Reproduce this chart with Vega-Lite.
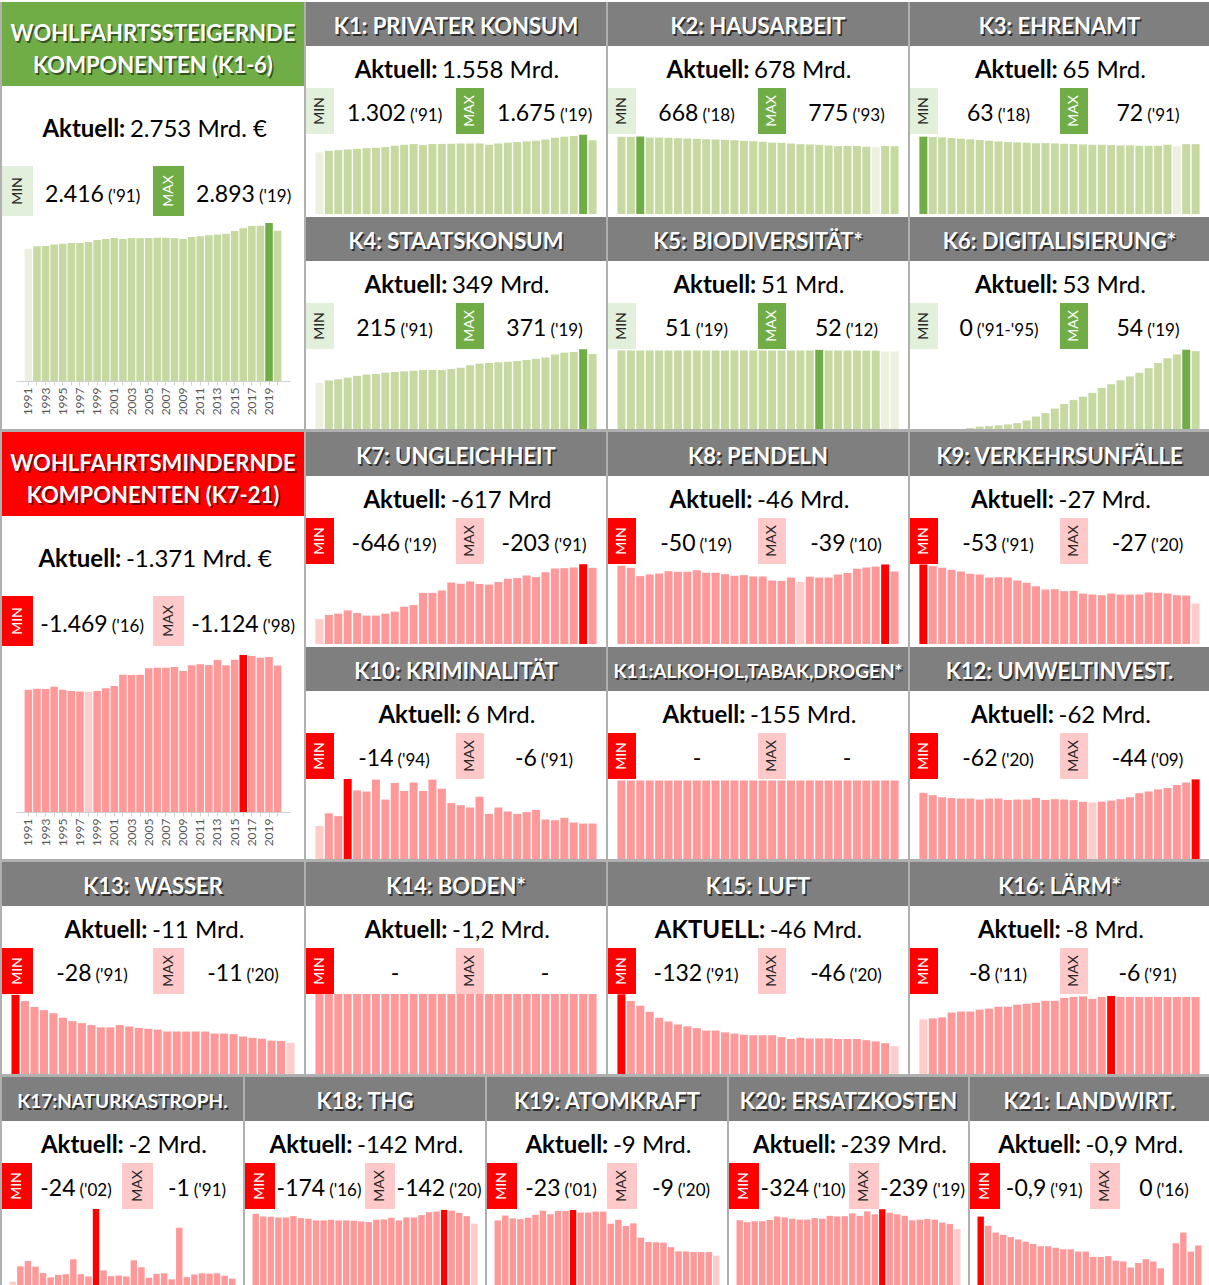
{
"$schema":"https://vega.github.io/schema/vega-lite/v6.json",
"padding":{"left":0,"top":2,"right":0,"bottom":0},
"background":"white",
"spacing":0,
"config":{"view":{"stroke":null},"font":"Lato","text":{"font":"Lato"},"concat":{"spacing":0},"axis":{"labelFont":"Lato"}},
"datasets":{
"info":[
{"k":"WS","titel":"WOHLFAHRTSSTEIGERNDE\nKOMPONENTEN (K1-6)","label":"Aktuell:","aktuell":"2.753 Mrd. €","min":"2.416","minj":"('91)","max":"2.893","maxj":"('19)"},
{"k":"WM","titel":"WOHLFAHRTSMINDERNDE\nKOMPONENTEN (K7-21)","label":"Aktuell:","aktuell":"-1.371 Mrd. €","min":"-1.469","minj":"('16)","max":"-1.124","maxj":"('98)"},
{"k":"K1","titel":"K1: PRIVATER KONSUM","label":"Aktuell:","aktuell":"1.558 Mrd.","min":"1.302","minj":"('91)","max":"1.675","maxj":"('19)"},
{"k":"K2","titel":"K2: HAUSARBEIT","label":"Aktuell:","aktuell":"678 Mrd.","min":"668","minj":"('18)","max":"775","maxj":"('93)"},
{"k":"K3","titel":"K3: EHRENAMT","label":"Aktuell:","aktuell":"65 Mrd.","min":"63","minj":"('18)","max":"72","maxj":"('91)"},
{"k":"K4","titel":"K4: STAATSKONSUM","label":"Aktuell:","aktuell":"349 Mrd.","min":"215","minj":"('91)","max":"371","maxj":"('19)"},
{"k":"K5","titel":"K5: BIODIVERSITÄT*","label":"Aktuell:","aktuell":"51 Mrd.","min":"51","minj":"('19)","max":"52","maxj":"('12)"},
{"k":"K6","titel":"K6: DIGITALISIERUNG*","label":"Aktuell:","aktuell":"53 Mrd.","min":"0","minj":"('91-'95)","max":"54","maxj":"('19)"},
{"k":"K7","titel":"K7: UNGLEICHHEIT","label":"Aktuell:","aktuell":"-617 Mrd","min":"-646","minj":"('19)","max":"-203","maxj":"('91)"},
{"k":"K8","titel":"K8: PENDELN","label":"Aktuell:","aktuell":"-46 Mrd.","min":"-50","minj":"('19)","max":"-39","maxj":"('10)"},
{"k":"K9","titel":"K9: VERKEHRSUNFÄLLE","label":"Aktuell:","aktuell":"-27 Mrd.","min":"-53","minj":"('91)","max":"-27","maxj":"('20)"},
{"k":"K10","titel":"K10: KRIMINALITÄT","label":"Aktuell:","aktuell":"6 Mrd.","min":"-14","minj":"('94)","max":"-6","maxj":"('91)"},
{"k":"K11","titel":"K11:ALKOHOL,TABAK,DROGEN*","label":"Aktuell:","aktuell":"-155 Mrd.","min":"-","minj":"","max":"-","maxj":""},
{"k":"K12","titel":"K12: UMWELTINVEST.","label":"Aktuell:","aktuell":"-62 Mrd.","min":"-62","minj":"('20)","max":"-44","maxj":"('09)"},
{"k":"K13","titel":"K13: WASSER","label":"Aktuell:","aktuell":"-11 Mrd.","min":"-28","minj":"('91)","max":"-11","maxj":"('20)"},
{"k":"K14","titel":"K14: BODEN*","label":"Aktuell:","aktuell":"-1,2 Mrd.","min":"-","minj":"","max":"-","maxj":""},
{"k":"K15","titel":"K15: LUFT","label":"AKTUELL:","aktuell":"-46 Mrd.","min":"-132","minj":"('91)","max":"-46","maxj":"('20)"},
{"k":"K16","titel":"K16: LÄRM*","label":"Aktuell:","aktuell":"-8 Mrd.","min":"-8","minj":"('11)","max":"-6","maxj":"('91)"},
{"k":"K17","titel":"K17:NATURKASTROPH.","label":"Aktuell:","aktuell":"-2 Mrd.","min":"-24","minj":"('02)","max":"-1","maxj":"('91)"},
{"k":"K18","titel":"K18: THG","label":"Aktuell:","aktuell":"-142 Mrd.","min":"-174","minj":"('16)","max":"-142","maxj":"('20)"},
{"k":"K19","titel":"K19: ATOMKRAFT","label":"Aktuell:","aktuell":"-9 Mrd.","min":"-23","minj":"('01)","max":"-9","maxj":"('20)"},
{"k":"K20","titel":"K20: ERSATZKOSTEN","label":"Aktuell:","aktuell":"-239 Mrd.","min":"-324","minj":"('10)","max":"-239","maxj":"('19)"},
{"k":"K21","titel":"K21: LANDWIRT.","label":"Aktuell:","aktuell":"-0,9 Mrd.","min":"-0,9","minj":"('91)","max":"0","maxj":"('16)"}
],
"werte":[
{"jahr":1991,"WS":2416,"K1":1302,"K2":772,"K3":72,"K4":215,"K5":51.6,"K6":0,"WM":-1144,"K7":-203,"K8":-49.2,"K9":-53,"K10":-5.8,"K11":-155,"K12":-51.5,"K13":-28,"K14":-1.2,"K15":-132,"K16":-5.6,"K17":-1,"K18":-164.8,"K19":-19.8,"K20":-276.8,"K21":-0.9},
{"jahr":1992,"WS":2466,"K1":1335,"K2":772,"K3":71.7,"K4":226,"K5":51.6,"K6":0,"WM":-1153,"K7":-235,"K8":-47.9,"K9":-51.9,"K10":-8,"K11":-155,"K12":-49.7,"K13":-25.8,"K14":-1.2,"K15":-121,"K16":-5.7,"K17":-5.9,"K18":-158.7,"K19":-21.3,"K20":-268.7,"K21":-0.78},
{"jahr":1993,"WS":2473,"K1":1349,"K2":775,"K3":71.4,"K4":231,"K5":51.6,"K6":0,"WM":-1150,"K7":-246,"K8":-42.7,"K9":-50.8,"K10":-7.5,"K11":-155,"K12":-48.1,"K13":-23.7,"K14":-1.2,"K15":-113,"K16":-5.8,"K17":-7.6,"K18":-158,"K19":-20.4,"K20":-272.7,"K21":-0.69},
{"jahr":1994,"WS":2497,"K1":1363,"K2":765,"K3":70.7,"K4":239,"K5":51.6,"K6":0,"WM":-1172,"K7":-272,"K8":-43.7,"K9":-49.4,"K10":-14,"K11":-155,"K12":-47.4,"K13":-22.6,"K14":-1.2,"K15":-103,"K16":-6.3,"K17":-5.8,"K18":-156.4,"K19":-20.2,"K20":-272.7,"K21":-0.66},
{"jahr":1995,"WS":2515,"K1":1377,"K2":765,"K3":70.1,"K4":247,"K5":51.6,"K6":0,"WM":-1144,"K7":-251,"K8":-44.3,"K9":-48.3,"K10":-12,"K11":-155,"K12":-47.1,"K13":-21.5,"K14":-1.2,"K15":-93,"K16":-6.4,"K17":-3.8,"K18":-156.4,"K19":-20.6,"K20":-278.1,"K21":-0.63},
{"jahr":1996,"WS":2527,"K1":1392,"K2":762,"K3":69.5,"K4":253,"K5":51.6,"K6":0.7,"WM":-1132,"K7":-230,"K8":-45.8,"K9":-46.8,"K10":-11.8,"K11":-155,"K12":-47.1,"K13":-19.9,"K14":-1.2,"K15":-87,"K16":-6.4,"K17":-2.4,"K18":-159.5,"K19":-21.5,"K20":-293,"K21":-0.6},
{"jahr":1997,"WS":2527,"K1":1399,"K2":758,"K3":68.9,"K4":256,"K5":51.6,"K6":1.6,"WM":-1127,"K7":-230,"K8":-45.4,"K9":-46.3,"K10":-13.9,"K11":-155,"K12":-46.3,"K13":-18.7,"K14":-1.2,"K15":-82,"K16":-6.6,"K17":-3.2,"K18":-154.9,"K19":-22.8,"K20":-288.9,"K21":-0.57},
{"jahr":1998,"WS":2546,"K1":1413,"K2":755,"K3":68.2,"K4":262,"K5":51.6,"K6":2,"WM":-1124,"K7":-246,"K8":-45.4,"K9":-44.3,"K10":-10.4,"K11":-155,"K12":-47.1,"K13":-18,"K14":-1.2,"K15":-79,"K16":-6.7,"K17":-3.4,"K18":-153.4,"K19":-21.7,"K20":-283.5,"K21":-0.54},
{"jahr":1999,"WS":2582,"K1":1441,"K2":752,"K3":67.6,"K4":265,"K5":51.6,"K6":2.5,"WM":-1132,"K7":-262,"K8":-46.4,"K9":-44.5,"K10":-13.3,"K11":-155,"K12":-47.1,"K13":-17.3,"K14":-1.2,"K15":-76,"K16":-6.9,"K17":-8.1,"K18":-149.5,"K19":-22.7,"K20":-279.5,"K21":-0.51},
{"jahr":2000,"WS":2600,"K1":1463,"K2":748,"K3":67,"K4":268,"K5":51.6,"K6":3.1,"WM":-1157,"K7":-302,"K8":-44.8,"K9":-44.3,"K10":-11.9,"K11":-155,"K12":-46,"K13":-16.5,"K14":-1.2,"K15":-72,"K16":-6.9,"K17":-3.4,"K18":-149.5,"K19":-22.7,"K20":-279.5,"K21":-0.51},
{"jahr":2001,"WS":2619,"K1":1477,"K2":745,"K3":66.7,"K4":271,"K5":51.6,"K6":4,"WM":-1178,"K7":-315,"K8":-44.8,"K9":-42.3,"K10":-13.4,"K11":-155,"K12":-46.3,"K13":-16.5,"K14":-1.2,"K15":-72,"K16":-7.1,"K17":-2.7,"K18":-151.1,"K19":-23,"K20":-286.2,"K21":-0.49},
{"jahr":2002,"WS":2600,"K1":1456,"K2":742,"K3":66.4,"K4":274,"K5":51.6,"K6":5.8,"WM":-1285,"K7":-414,"K8":-43.9,"K9":-40.8,"K10":-11.9,"K11":-155,"K12":-46.3,"K13":-17.3,"K14":-1.2,"K15":-69,"K16":-7.2,"K17":-24,"K18":-149.5,"K19":-22.2,"K20":-283.5,"K21":-0.47},
{"jahr":2003,"WS":2619,"K1":1477,"K2":738,"K3":66,"K4":274,"K5":51.6,"K6":8.5,"WM":-1282,"K7":-414,"K8":-42.9,"K9":-38.5,"K10":-13.9,"K11":-155,"K12":-47.6,"K13":-16.8,"K14":-1.2,"K15":-67,"K16":-7.3,"K17":-4.6,"K18":-149.5,"K19":-22.2,"K20":-295.7,"K21":-0.47},
{"jahr":2004,"WS":2613,"K1":1480,"K2":732,"K3":66,"K4":274,"K5":51.6,"K6":10.8,"WM":-1285,"K7":-433,"K8":-43.3,"K9":-36.3,"K10":-12.3,"K11":-155,"K12":-46,"K13":-16.3,"K14":-1.2,"K15":-65,"K16":-7.5,"K17":-2.8,"K18":-148.8,"K19":-22.5,"K20":-293,"K21":-0.44},
{"jahr":2005,"WS":2619,"K1":1483,"K2":728,"K3":65.7,"K4":279,"K5":51.6,"K6":13.9,"WM":-1344,"K7":-499,"K8":-42.5,"K9":-36.5,"K10":-9.8,"K11":-155,"K12":-46.6,"K13":-16,"K14":-1.2,"K15":-64,"K16":-7.5,"K17":-3,"K18":-147.3,"K19":-22.5,"K20":-294.3,"K21":-0.44},
{"jahr":2006,"WS":2625,"K1":1487,"K2":722,"K3":65.4,"K4":285,"K5":51.6,"K6":17,"WM":-1350,"K7":-489,"K8":-42.5,"K9":-35.2,"K10":-9.4,"K11":-155,"K12":-46.3,"K13":-15.7,"K14":-1.2,"K15":-64,"K16":-7.8,"K17":-2.7,"K18":-145.7,"K19":-18.8,"K20":-306.5,"K21":-0.37},
{"jahr":2007,"WS":2625,"K1":1490,"K2":715,"K3":65.1,"K4":296,"K5":51.6,"K6":19.7,"WM":-1350,"K7":-507,"K8":-40,"K9":-35.4,"K10":-9,"K11":-155,"K12":-45.8,"K13":-15,"K14":-1.2,"K15":-64,"K16":-7.9,"K17":-7.8,"K18":-151.1,"K19":-20,"K20":-295.7,"K21":-0.37},
{"jahr":2008,"WS":2619,"K1":1490,"K2":712,"K3":64.8,"K4":304,"K5":51.6,"K6":22,"WM":-1357,"K7":-486,"K8":-39.7,"K9":-33.6,"K10":-10.9,"K11":-155,"K12":-44.5,"K13":-15,"K14":-1.2,"K15":-61,"K16":-7.96,"K17":-5.6,"K18":-151.8,"K19":-18.1,"K20":-314.6,"K21":-0.38},
{"jahr":2009,"WS":2600,"K1":1463,"K2":705,"K3":64.5,"K4":307,"K5":51.6,"K6":24.6,"WM":-1319,"K7":-481,"K8":-41.8,"K9":-33,"K10":-7.9,"K11":-155,"K12":-44,"K13":-15,"K14":-1.2,"K15":-58,"K16":-7.7,"K17":-2.3,"K18":-155.7,"K19":-18.9,"K20":-302.4,"K21":-0.32},
{"jahr":2010,"WS":2637,"K1":1491,"K2":698,"K3":64.5,"K4":310,"K5":51.6,"K6":28,"WM":-1372,"K7":-502,"K8":-39,"K9":-32.5,"K10":-9,"K11":-155,"K12":-44.7,"K13":-15,"K14":-1.2,"K15":-60,"K16":-7.9,"K17":-3.5,"K18":-149.5,"K19":-14.5,"K20":-324,"K21":-0.31},
{"jahr":2011,"WS":2649,"K1":1505,"K2":695,"K3":64.2,"K4":313,"K5":51.6,"K6":30.5,"WM":-1382,"K7":-529,"K8":-42.3,"K9":-33.6,"K10":-8.3,"K11":-155,"K12":-45.5,"K13":-15,"K14":-1.2,"K15":-59,"K16":-8,"K17":-3.7,"K18":-156.4,"K19":-13.2,"K20":-309.2,"K21":-0.23},
{"jahr":2012,"WS":2667,"K1":1519,"K2":692,"K3":63.9,"K4":316,"K5":52,"K6":33.2,"WM":-1375,"K7":-534,"K8":-41.8,"K9":-33,"K10":-7.9,"K11":-155,"K12":-46.6,"K13":-14.3,"K14":-1.2,"K15":-59,"K16":-7.9,"K17":-1.8,"K18":-156.4,"K19":-13.1,"K20":-302.4,"K21":-0.29},
{"jahr":2013,"WS":2680,"K1":1534,"K2":685,"K3":63.9,"K4":321,"K5":51.6,"K6":35.8,"WM":-1422,"K7":-555,"K8":-41.8,"K9":-33,"K10":-8.2,"K11":-155,"K12":-48.1,"K13":-14.3,"K14":-1.2,"K15":-59,"K16":-7.9,"K17":-18.1,"K18":-161.8,"K19":-13,"K20":-295.7,"K21":-0.34},
{"jahr":2014,"WS":2698,"K1":1548,"K2":678,"K3":63.5,"K4":326,"K5":51.6,"K6":38.3,"WM":-1372,"K7":-542,"K8":-43.7,"K9":-33,"K10":-8.6,"K11":-155,"K12":-51.3,"K13":-14.1,"K14":-1.2,"K15":-58,"K16":-7.9,"K17":-2.5,"K18":-168.6,"K19":-11.6,"K20":-276.8,"K21":-0.31},
{"jahr":2015,"WS":2747,"K1":1576,"K2":680,"K3":63.5,"K4":333,"K5":51.6,"K6":41.4,"WM":-1425,"K7":-582,"K8":-44.6,"K9":-34.3,"K10":-6.9,"K11":-155,"K12":-52.6,"K13":-13.3,"K14":-1.2,"K15":-58,"K16":-7.9,"K17":-3.3,"K18":-170.1,"K19":-10.3,"K20":-279.5,"K21":-0.22},
{"jahr":2016,"WS":2795,"K1":1612,"K2":680,"K3":63.5,"K4":347,"K5":51.6,"K6":45,"WM":-1469,"K7":-612,"K8":-47.3,"K9":-34.1,"K10":-6.8,"K11":-155,"K12":-54.2,"K13":-12.8,"K14":-1.2,"K15":-58,"K16":-7.9,"K17":-3.7,"K18":-174,"K19":-10.3,"K20":-282.2,"K21":0},
{"jahr":2017,"WS":2838,"K1":1633,"K2":673,"K3":64.5,"K4":355,"K5":51.5,"K6":48.2,"WM":-1460,"K7":-614,"K8":-48.1,"K9":-33.6,"K10":-7.2,"K11":-155,"K12":-55.2,"K13":-12.5,"K14":-1.2,"K15":-56,"K16":-7.9,"K17":-3.6,"K18":-172.4,"K19":-10.1,"K20":-279.5,"K21":-0.55},
{"jahr":2018,"WS":2844,"K1":1647,"K2":668,"K3":63,"K4":358,"K5":51.5,"K6":50.8,"WM":-1444,"K7":-620,"K8":-48.7,"K9":-32.5,"K10":-6.4,"K11":-155,"K12":-57.6,"K13":-11.8,"K14":-1.2,"K15":-54,"K16":-7.9,"K17":-3.7,"K18":-167.1,"K19":-10.1,"K20":-267.3,"K21":-0.69},
{"jahr":2019,"WS":2893,"K1":1675,"K2":680,"K3":65,"K4":371,"K5":51,"K6":54,"WM":-1450,"K7":-646,"K8":-50,"K9":-32.3,"K10":-6.2,"K11":-155,"K12":-59.6,"K13":-11.7,"K14":-1.2,"K15":-51,"K16":-7.9,"K17":-2.9,"K18":-159.5,"K19":-10.1,"K20":-260.6,"K21":-0.44},
{"jahr":2020,"WS":2753,"K1":1558,"K2":678,"K3":65,"K4":349,"K5":51,"K6":53,"WM":-1371,"K7":-617,"K8":-45.6,"K9":-27,"K10":-6.2,"K11":-155,"K12":-62,"K13":-11,"K14":-1.2,"K15":-46,"K16":-7.9,"K17":-2,"K18":-142,"K19":-9,"K20":-239,"K21":-0.52}
]},
"vconcat":[
{"hconcat":[
{"width":2,"height":427,"view":{"fill":"#b0b0b0"},"data":{"values":[]},"mark":"text","encoding":{"text":{"value":""}}},
{"vconcat":[
 {"width":302,"height":84,"view":{"fill":"#70ad47"},"data":{"name":"info"},"transform":[{"filter":"datum.k=='WS'"}],"layer":[
  {"mark":{"type":"text","fontSize":22,"fontWeight":"bold","color":"#263d18","opacity":0.8,"lineBreak":"\n","lineHeight":32,"dx":1.5,"dy":-8},"encoding":{"text":{"field":"titel"}}},
  {"mark":{"type":"text","fontSize":22,"fontWeight":"bold","color":"white","lineBreak":"\n","lineHeight":32,"dy":-10},"encoding":{"text":{"field":"titel"}}}]},
 {"width":302,"height":80,"data":{"name":"info"},"transform":[{"filter":"datum.k=='WS'"}],"layer":[
  {"mark":{"type":"text","fontSize":24,"fontWeight":"bold","align":"right","baseline":"alphabetic","dx":-27.7,"dy":11,"color":"black"},"encoding":{"text":{"field":"label"}}},
  {"mark":{"type":"text","fontSize":24,"align":"left","baseline":"alphabetic","dx":-23.1,"dy":11,"color":"black"},"encoding":{"text":{"field":"aktuell"}}}]},
 {"hconcat":[
  {"width":31,"height":50,"view":{"fill":"#e2efda"},"data":{"values":[{}]},"mark":{"type":"text","angle":270,"fontSize":14,"color":"#262626"},"encoding":{"text":{"value":"MIN"}}},
  {"width":120,"height":50,"data":{"name":"info"},"transform":[{"filter":"datum.k=='WS'"}],"layer":[
   {"mark":{"type":"text","fontSize":23,"align":"right","baseline":"alphabetic","dx":10.9,"dy":11,"color":"black"},"encoding":{"text":{"field":"min"}}},
   {"mark":{"type":"text","fontSize":17,"align":"left","baseline":"alphabetic","dx":14.9,"dy":11,"color":"black"},"encoding":{"text":{"field":"minj"}}}]},
  {"width":31,"height":50,"view":{"fill":"#70ad47"},"data":{"values":[{}]},"mark":{"type":"text","angle":270,"fontSize":14,"color":"white"},"encoding":{"text":{"value":"MAX"}}},
  {"width":120,"height":50,"data":{"name":"info"},"transform":[{"filter":"datum.k=='WS'"}],"layer":[
   {"mark":{"type":"text","fontSize":23,"align":"right","baseline":"alphabetic","dx":10.9,"dy":11,"color":"black"},"encoding":{"text":{"field":"max"}}},
   {"mark":{"type":"text","fontSize":17,"align":"left","baseline":"alphabetic","dx":14.9,"dy":11,"color":"black"},"encoding":{"text":{"field":"maxj"}}}]}]},
 {"hconcat":[
  {"width":14,"height":165,"data":{"values":[]},"mark":"text","encoding":{"text":{"value":""}}},
  {"width":274,"height":165,"data":{"name":"werte"},"mark":{"type":"bar","clip":true},"encoding":{
   "x":{"field":"jahr","type":"ordinal","scale":{"paddingInner":0.12,"paddingOuter":1},"axis":{"title":null,"labelAngle":270,"labelFontSize":12,"labelColor":"#595959","labelExpr":"datum.value % 2 == 1 ? datum.label : ''","tickColor":"#d0d0d0","domainColor":"#d0d0d0","tickSize":4,"labelPadding":2}},
   "y":{"field":"WS","type":"quantitative","axis":null,"scale":{"domain":[0,3021],"nice":false}},
   "color":{"condition":[{"test":"datum.jahr == 2019","value":"#70ad47"},{"test":"datum.jahr == 1991","value":"#ebf1de"}],"value":"#c5d9a1"}}},
  {"width":14,"height":165,"data":{"values":[]},"mark":"text","encoding":{"text":{"value":""}}}]}
]},
{"width":2,"height":427,"view":{"fill":"#b0b0b0"},"data":{"values":[]},"mark":"text","encoding":{"text":{"value":""}}},
{"vconcat":[
 {"vconcat":[
  {"width":300,"height":44,"view":{"fill":"#7f7f7f"},"data":{"name":"info"},"transform":[{"filter":"datum.k=='K1'"}],"layer":[
   {"mark":{"type":"text","fontSize":22,"fontWeight":"bold","color":"#1a1a1a","opacity":0.8,"dx":1.5,"dy":5},"encoding":{"text":{"field":"titel"}}},
   {"mark":{"type":"text","fontSize":22,"fontWeight":"bold","color":"white","dy":3},"encoding":{"text":{"field":"titel"}}}]},
  {"width":300,"height":42,"data":{"name":"info"},"transform":[{"filter":"datum.k=='K1'"}],"layer":[
   {"mark":{"type":"text","fontSize":24,"fontWeight":"bold","align":"right","baseline":"alphabetic","dx":-18.5,"dy":11,"color":"black"},"encoding":{"text":{"field":"label"}}},
   {"mark":{"type":"text","fontSize":24,"align":"left","baseline":"alphabetic","dx":-13.9,"dy":11,"color":"black"},"encoding":{"text":{"field":"aktuell"}}}]},
  {"hconcat":[
   {"width":28,"height":46,"view":{"fill":"#e2efda"},"data":{"values":[{}]},"mark":{"type":"text","angle":270,"fontSize":14,"color":"#262626"},"encoding":{"text":{"value":"MIN"}}},
   {"width":122,"height":46,"data":{"name":"info"},"transform":[{"filter":"datum.k=='K1'"}],"layer":[
    {"mark":{"type":"text","fontSize":23,"align":"right","baseline":"alphabetic","dx":10.9,"dy":10,"color":"black"},"encoding":{"text":{"field":"min"}}},
    {"mark":{"type":"text","fontSize":17,"align":"left","baseline":"alphabetic","dx":14.9,"dy":10,"color":"black"},"encoding":{"text":{"field":"minj"}}}]},
   {"width":28,"height":46,"view":{"fill":"#70ad47"},"data":{"values":[{}]},"mark":{"type":"text","angle":270,"fontSize":14,"color":"white"},"encoding":{"text":{"value":"MAX"}}},
   {"width":122,"height":46,"data":{"name":"info"},"transform":[{"filter":"datum.k=='K1'"}],"layer":[
    {"mark":{"type":"text","fontSize":23,"align":"right","baseline":"alphabetic","dx":10.9,"dy":10,"color":"black"},"encoding":{"text":{"field":"max"}}},
    {"mark":{"type":"text","fontSize":17,"align":"left","baseline":"alphabetic","dx":14.9,"dy":10,"color":"black"},"encoding":{"text":{"field":"maxj"}}}]}]},
  {"width":300,"height":80,"data":{"name":"werte"},"mark":{"type":"bar","clip":true},"encoding":{
   "x":{"field":"jahr","type":"ordinal","axis":null,"scale":{"paddingInner":0.15,"paddingOuter":1}},
   "y":{"field":"K1","type":"quantitative","axis":null,"scale":{"domain":[0,1690],"nice":false}},
   "color":{"condition":[{"test":"datum.jahr == 2019","value":"#70ad47"},{"test":"datum.jahr == 1991","value":"#ebf1de"}],"value":"#c5d9a1"}}}
 ]},
 {"vconcat":[
  {"width":300,"height":44,"view":{"fill":"#7f7f7f"},"data":{"name":"info"},"transform":[{"filter":"datum.k=='K4'"}],"layer":[
   {"mark":{"type":"text","fontSize":22,"fontWeight":"bold","color":"#1a1a1a","opacity":0.8,"dx":1.5,"dy":5},"encoding":{"text":{"field":"titel"}}},
   {"mark":{"type":"text","fontSize":22,"fontWeight":"bold","color":"white","dy":3},"encoding":{"text":{"field":"titel"}}}]},
  {"width":300,"height":42,"data":{"name":"info"},"transform":[{"filter":"datum.k=='K4'"}],"layer":[
   {"mark":{"type":"text","fontSize":24,"fontWeight":"bold","align":"right","baseline":"alphabetic","dx":-8.6,"dy":11,"color":"black"},"encoding":{"text":{"field":"label"}}},
   {"mark":{"type":"text","fontSize":24,"align":"left","baseline":"alphabetic","dx":-4,"dy":11,"color":"black"},"encoding":{"text":{"field":"aktuell"}}}]},
  {"hconcat":[
   {"width":28,"height":46,"view":{"fill":"#e2efda"},"data":{"values":[{}]},"mark":{"type":"text","angle":270,"fontSize":14,"color":"#262626"},"encoding":{"text":{"value":"MIN"}}},
   {"width":122,"height":46,"data":{"name":"info"},"transform":[{"filter":"datum.k=='K4'"}],"layer":[
    {"mark":{"type":"text","fontSize":23,"align":"right","baseline":"alphabetic","dx":1.4,"dy":10,"color":"black"},"encoding":{"text":{"field":"min"}}},
    {"mark":{"type":"text","fontSize":17,"align":"left","baseline":"alphabetic","dx":5.4,"dy":10,"color":"black"},"encoding":{"text":{"field":"minj"}}}]},
   {"width":28,"height":46,"view":{"fill":"#70ad47"},"data":{"values":[{}]},"mark":{"type":"text","angle":270,"fontSize":14,"color":"white"},"encoding":{"text":{"value":"MAX"}}},
   {"width":122,"height":46,"data":{"name":"info"},"transform":[{"filter":"datum.k=='K4'"}],"layer":[
    {"mark":{"type":"text","fontSize":23,"align":"right","baseline":"alphabetic","dx":1.4,"dy":10,"color":"black"},"encoding":{"text":{"field":"max"}}},
    {"mark":{"type":"text","fontSize":17,"align":"left","baseline":"alphabetic","dx":5.4,"dy":10,"color":"black"},"encoding":{"text":{"field":"maxj"}}}]}]},
  {"width":300,"height":80,"data":{"name":"werte"},"mark":{"type":"bar","clip":true},"encoding":{
   "x":{"field":"jahr","type":"ordinal","axis":null,"scale":{"paddingInner":0.15,"paddingOuter":1}},
   "y":{"field":"K4","type":"quantitative","axis":null,"scale":{"domain":[0,372],"nice":false}},
   "color":{"condition":[{"test":"datum.jahr == 2019","value":"#70ad47"},{"test":"datum.jahr == 1991","value":"#ebf1de"}],"value":"#c5d9a1"}}}
 ]}
],"spacing":3},
{"width":2,"height":427,"view":{"fill":"#b0b0b0"},"data":{"values":[]},"mark":"text","encoding":{"text":{"value":""}}},
{"vconcat":[
 {"vconcat":[
  {"width":300,"height":44,"view":{"fill":"#7f7f7f"},"data":{"name":"info"},"transform":[{"filter":"datum.k=='K2'"}],"layer":[
   {"mark":{"type":"text","fontSize":22,"fontWeight":"bold","color":"#1a1a1a","opacity":0.8,"dx":1.5,"dy":5},"encoding":{"text":{"field":"titel"}}},
   {"mark":{"type":"text","fontSize":22,"fontWeight":"bold","color":"white","dy":3},"encoding":{"text":{"field":"titel"}}}]},
  {"width":300,"height":42,"data":{"name":"info"},"transform":[{"filter":"datum.k=='K2'"}],"layer":[
   {"mark":{"type":"text","fontSize":24,"fontWeight":"bold","align":"right","baseline":"alphabetic","dx":-8.6,"dy":11,"color":"black"},"encoding":{"text":{"field":"label"}}},
   {"mark":{"type":"text","fontSize":24,"align":"left","baseline":"alphabetic","dx":-4,"dy":11,"color":"black"},"encoding":{"text":{"field":"aktuell"}}}]},
  {"hconcat":[
   {"width":28,"height":46,"view":{"fill":"#e2efda"},"data":{"values":[{}]},"mark":{"type":"text","angle":270,"fontSize":14,"color":"#262626"},"encoding":{"text":{"value":"MIN"}}},
   {"width":122,"height":46,"data":{"name":"info"},"transform":[{"filter":"datum.k=='K2'"}],"layer":[
    {"mark":{"type":"text","fontSize":23,"align":"right","baseline":"alphabetic","dx":1.4,"dy":10,"color":"black"},"encoding":{"text":{"field":"min"}}},
    {"mark":{"type":"text","fontSize":17,"align":"left","baseline":"alphabetic","dx":5.4,"dy":10,"color":"black"},"encoding":{"text":{"field":"minj"}}}]},
   {"width":28,"height":46,"view":{"fill":"#70ad47"},"data":{"values":[{}]},"mark":{"type":"text","angle":270,"fontSize":14,"color":"white"},"encoding":{"text":{"value":"MAX"}}},
   {"width":122,"height":46,"data":{"name":"info"},"transform":[{"filter":"datum.k=='K2'"}],"layer":[
    {"mark":{"type":"text","fontSize":23,"align":"right","baseline":"alphabetic","dx":1.4,"dy":10,"color":"black"},"encoding":{"text":{"field":"max"}}},
    {"mark":{"type":"text","fontSize":17,"align":"left","baseline":"alphabetic","dx":5.4,"dy":10,"color":"black"},"encoding":{"text":{"field":"maxj"}}}]}]},
  {"width":300,"height":80,"data":{"name":"werte"},"mark":{"type":"bar","clip":true},"encoding":{
   "x":{"field":"jahr","type":"ordinal","axis":null,"scale":{"paddingInner":0.15,"paddingOuter":1}},
   "y":{"field":"K2","type":"quantitative","axis":null,"scale":{"domain":[0,800],"nice":false}},
   "color":{"condition":[{"test":"datum.jahr == 1993","value":"#70ad47"},{"test":"datum.jahr == 2018","value":"#ebf1de"}],"value":"#c5d9a1"}}}
 ]},
 {"vconcat":[
  {"width":300,"height":44,"view":{"fill":"#7f7f7f"},"data":{"name":"info"},"transform":[{"filter":"datum.k=='K5'"}],"layer":[
   {"mark":{"type":"text","fontSize":22,"fontWeight":"bold","color":"#1a1a1a","opacity":0.8,"dx":1.5,"dy":5},"encoding":{"text":{"field":"titel"}}},
   {"mark":{"type":"text","fontSize":22,"fontWeight":"bold","color":"white","dy":3},"encoding":{"text":{"field":"titel"}}}]},
  {"width":300,"height":42,"data":{"name":"info"},"transform":[{"filter":"datum.k=='K5'"}],"layer":[
   {"mark":{"type":"text","fontSize":24,"fontWeight":"bold","align":"right","baseline":"alphabetic","dx":-1.7,"dy":11,"color":"black"},"encoding":{"text":{"field":"label"}}},
   {"mark":{"type":"text","fontSize":24,"align":"left","baseline":"alphabetic","dx":2.9,"dy":11,"color":"black"},"encoding":{"text":{"field":"aktuell"}}}]},
  {"hconcat":[
   {"width":28,"height":46,"view":{"fill":"#e2efda"},"data":{"values":[{}]},"mark":{"type":"text","angle":270,"fontSize":14,"color":"#262626"},"encoding":{"text":{"value":"MIN"}}},
   {"width":122,"height":46,"data":{"name":"info"},"transform":[{"filter":"datum.k=='K5'"}],"layer":[
    {"mark":{"type":"text","fontSize":23,"align":"right","baseline":"alphabetic","dx":-5.3,"dy":10,"color":"black"},"encoding":{"text":{"field":"min"}}},
    {"mark":{"type":"text","fontSize":17,"align":"left","baseline":"alphabetic","dx":-1.3,"dy":10,"color":"black"},"encoding":{"text":{"field":"minj"}}}]},
   {"width":28,"height":46,"view":{"fill":"#70ad47"},"data":{"values":[{}]},"mark":{"type":"text","angle":270,"fontSize":14,"color":"white"},"encoding":{"text":{"value":"MAX"}}},
   {"width":122,"height":46,"data":{"name":"info"},"transform":[{"filter":"datum.k=='K5'"}],"layer":[
    {"mark":{"type":"text","fontSize":23,"align":"right","baseline":"alphabetic","dx":-5.3,"dy":10,"color":"black"},"encoding":{"text":{"field":"max"}}},
    {"mark":{"type":"text","fontSize":17,"align":"left","baseline":"alphabetic","dx":-1.3,"dy":10,"color":"black"},"encoding":{"text":{"field":"maxj"}}}]}]},
  {"width":300,"height":80,"data":{"name":"werte"},"mark":{"type":"bar","clip":true},"encoding":{
   "x":{"field":"jahr","type":"ordinal","axis":null,"scale":{"paddingInner":0.15,"paddingOuter":1}},
   "y":{"field":"K5","type":"quantitative","axis":null,"scale":{"domain":[0,52.6],"nice":false}},
   "color":{"condition":[{"test":"datum.jahr == 2012","value":"#70ad47"},{"test":"datum.jahr >= 2019","value":"#ebf1de"}],"value":"#c5d9a1"}}}
 ]}
],"spacing":3},
{"width":2,"height":427,"view":{"fill":"#b0b0b0"},"data":{"values":[]},"mark":"text","encoding":{"text":{"value":""}}},
{"vconcat":[
 {"vconcat":[
  {"width":299,"height":44,"view":{"fill":"#7f7f7f"},"data":{"name":"info"},"transform":[{"filter":"datum.k=='K3'"}],"layer":[
   {"mark":{"type":"text","fontSize":22,"fontWeight":"bold","color":"#1a1a1a","opacity":0.8,"dx":1.5,"dy":5},"encoding":{"text":{"field":"titel"}}},
   {"mark":{"type":"text","fontSize":22,"fontWeight":"bold","color":"white","dy":3},"encoding":{"text":{"field":"titel"}}}]},
  {"width":299,"height":42,"data":{"name":"info"},"transform":[{"filter":"datum.k=='K3'"}],"layer":[
   {"mark":{"type":"text","fontSize":24,"fontWeight":"bold","align":"right","baseline":"alphabetic","dx":-1.7,"dy":11,"color":"black"},"encoding":{"text":{"field":"label"}}},
   {"mark":{"type":"text","fontSize":24,"align":"left","baseline":"alphabetic","dx":2.9,"dy":11,"color":"black"},"encoding":{"text":{"field":"aktuell"}}}]},
  {"hconcat":[
   {"width":28,"height":46,"view":{"fill":"#e2efda"},"data":{"values":[{}]},"mark":{"type":"text","angle":270,"fontSize":14,"color":"#262626"},"encoding":{"text":{"value":"MIN"}}},
   {"width":122,"height":46,"data":{"name":"info"},"transform":[{"filter":"datum.k=='K3'"}],"layer":[
    {"mark":{"type":"text","fontSize":23,"align":"right","baseline":"alphabetic","dx":-5.3,"dy":10,"color":"black"},"encoding":{"text":{"field":"min"}}},
    {"mark":{"type":"text","fontSize":17,"align":"left","baseline":"alphabetic","dx":-1.3,"dy":10,"color":"black"},"encoding":{"text":{"field":"minj"}}}]},
   {"width":28,"height":46,"view":{"fill":"#70ad47"},"data":{"values":[{}]},"mark":{"type":"text","angle":270,"fontSize":14,"color":"white"},"encoding":{"text":{"value":"MAX"}}},
   {"width":121,"height":46,"data":{"name":"info"},"transform":[{"filter":"datum.k=='K3'"}],"layer":[
    {"mark":{"type":"text","fontSize":23,"align":"right","baseline":"alphabetic","dx":-5.3,"dy":10,"color":"black"},"encoding":{"text":{"field":"max"}}},
    {"mark":{"type":"text","fontSize":17,"align":"left","baseline":"alphabetic","dx":-1.3,"dy":10,"color":"black"},"encoding":{"text":{"field":"maxj"}}}]}]},
  {"width":299,"height":80,"data":{"name":"werte"},"mark":{"type":"bar","clip":true},"encoding":{
   "x":{"field":"jahr","type":"ordinal","axis":null,"scale":{"paddingInner":0.15,"paddingOuter":1}},
   "y":{"field":"K3","type":"quantitative","axis":null,"scale":{"domain":[0,74.5],"nice":false}},
   "color":{"condition":[{"test":"datum.jahr == 1991","value":"#70ad47"},{"test":"datum.jahr == 2018","value":"#ebf1de"}],"value":"#c5d9a1"}}}
 ]},
 {"vconcat":[
  {"width":299,"height":44,"view":{"fill":"#7f7f7f"},"data":{"name":"info"},"transform":[{"filter":"datum.k=='K6'"}],"layer":[
   {"mark":{"type":"text","fontSize":22,"fontWeight":"bold","color":"#1a1a1a","opacity":0.8,"dx":1.5,"dy":5},"encoding":{"text":{"field":"titel"}}},
   {"mark":{"type":"text","fontSize":22,"fontWeight":"bold","color":"white","dy":3},"encoding":{"text":{"field":"titel"}}}]},
  {"width":299,"height":42,"data":{"name":"info"},"transform":[{"filter":"datum.k=='K6'"}],"layer":[
   {"mark":{"type":"text","fontSize":24,"fontWeight":"bold","align":"right","baseline":"alphabetic","dx":-1.7,"dy":11,"color":"black"},"encoding":{"text":{"field":"label"}}},
   {"mark":{"type":"text","fontSize":24,"align":"left","baseline":"alphabetic","dx":2.9,"dy":11,"color":"black"},"encoding":{"text":{"field":"aktuell"}}}]},
  {"hconcat":[
   {"width":28,"height":46,"view":{"fill":"#e2efda"},"data":{"values":[{}]},"mark":{"type":"text","angle":270,"fontSize":14,"color":"#262626"},"encoding":{"text":{"value":"MIN"}}},
   {"width":122,"height":46,"data":{"name":"info"},"transform":[{"filter":"datum.k=='K6'"}],"layer":[
    {"mark":{"type":"text","fontSize":23,"align":"right","baseline":"alphabetic","dx":-26.2,"dy":10,"color":"black"},"encoding":{"text":{"field":"min"}}},
    {"mark":{"type":"text","fontSize":17,"align":"left","baseline":"alphabetic","dx":-22.2,"dy":10,"color":"black"},"encoding":{"text":{"field":"minj"}}}]},
   {"width":28,"height":46,"view":{"fill":"#70ad47"},"data":{"values":[{}]},"mark":{"type":"text","angle":270,"fontSize":14,"color":"white"},"encoding":{"text":{"value":"MAX"}}},
   {"width":121,"height":46,"data":{"name":"info"},"transform":[{"filter":"datum.k=='K6'"}],"layer":[
    {"mark":{"type":"text","fontSize":23,"align":"right","baseline":"alphabetic","dx":-5.3,"dy":10,"color":"black"},"encoding":{"text":{"field":"max"}}},
    {"mark":{"type":"text","fontSize":17,"align":"left","baseline":"alphabetic","dx":-1.3,"dy":10,"color":"black"},"encoding":{"text":{"field":"maxj"}}}]}]},
  {"width":299,"height":80,"data":{"name":"werte"},"mark":{"type":"bar","clip":true},"encoding":{
   "x":{"field":"jahr","type":"ordinal","axis":null,"scale":{"paddingInner":0.15,"paddingOuter":1}},
   "y":{"field":"K6","type":"quantitative","axis":null,"scale":{"domain":[0,54.5],"nice":false}},
   "color":{"condition":[{"test":"datum.jahr == 2019","value":"#70ad47"}],"value":"#c5d9a1"}}}
 ]}
],"spacing":3}
]},
{"width":1209,"height":3,"view":{"fill":"#b0b0b0"},"data":{"values":[]},"mark":"text","encoding":{"text":{"value":""}}},
{"hconcat":[
{"width":2,"height":427,"view":{"fill":"#b0b0b0"},"data":{"values":[]},"mark":"text","encoding":{"text":{"value":""}}},
{"vconcat":[
 {"width":302,"height":84,"view":{"fill":"#ff0000"},"data":{"name":"info"},"transform":[{"filter":"datum.k=='WM'"}],"layer":[
  {"mark":{"type":"text","fontSize":22,"fontWeight":"bold","color":"#5c0000","opacity":0.8,"lineBreak":"\n","lineHeight":32,"dx":1.5,"dy":-8},"encoding":{"text":{"field":"titel"}}},
  {"mark":{"type":"text","fontSize":22,"fontWeight":"bold","color":"white","lineBreak":"\n","lineHeight":32,"dy":-10},"encoding":{"text":{"field":"titel"}}}]},
 {"width":302,"height":80,"data":{"name":"info"},"transform":[{"filter":"datum.k=='WM'"}],"layer":[
  {"mark":{"type":"text","fontSize":24,"fontWeight":"bold","align":"right","baseline":"alphabetic","dx":-31.7,"dy":11,"color":"black"},"encoding":{"text":{"field":"label"}}},
  {"mark":{"type":"text","fontSize":24,"align":"left","baseline":"alphabetic","dx":-27.1,"dy":11,"color":"black"},"encoding":{"text":{"field":"aktuell"}}}]},
 {"hconcat":[
  {"width":31,"height":50,"view":{"fill":"#ff0000"},"data":{"values":[{}]},"mark":{"type":"text","angle":270,"fontSize":14,"color":"white"},"encoding":{"text":{"value":"MIN"}}},
  {"width":120,"height":50,"data":{"name":"info"},"transform":[{"filter":"datum.k=='WM'"}],"layer":[
   {"mark":{"type":"text","fontSize":23,"align":"right","baseline":"alphabetic","dx":14.7,"dy":11,"color":"black"},"encoding":{"text":{"field":"min"}}},
   {"mark":{"type":"text","fontSize":17,"align":"left","baseline":"alphabetic","dx":18.7,"dy":11,"color":"black"},"encoding":{"text":{"field":"minj"}}}]},
  {"width":31,"height":50,"view":{"fill":"#ffc9c9"},"data":{"values":[{}]},"mark":{"type":"text","angle":270,"fontSize":14,"color":"#262626"},"encoding":{"text":{"value":"MAX"}}},
  {"width":120,"height":50,"data":{"name":"info"},"transform":[{"filter":"datum.k=='WM'"}],"layer":[
   {"mark":{"type":"text","fontSize":23,"align":"right","baseline":"alphabetic","dx":14.7,"dy":11,"color":"black"},"encoding":{"text":{"field":"max"}}},
   {"mark":{"type":"text","fontSize":17,"align":"left","baseline":"alphabetic","dx":18.7,"dy":11,"color":"black"},"encoding":{"text":{"field":"maxj"}}}]}]},
 {"hconcat":[
  {"width":14,"height":166,"data":{"values":[]},"mark":"text","encoding":{"text":{"value":""}}},
  {"width":274,"height":166,"data":{"name":"werte"},"mark":{"type":"bar","clip":true},"encoding":{
   "x":{"field":"jahr","type":"ordinal","scale":{"paddingInner":0.12,"paddingOuter":1},"axis":{"title":null,"labelAngle":270,"labelFontSize":12,"labelColor":"#595959","labelExpr":"datum.value % 2 == 1 ? datum.label : ''","tickColor":"#d0d0d0","domainColor":"#d0d0d0","tickSize":4,"labelPadding":2}},
   "y":{"field":"WM","type":"quantitative","axis":null,"scale":{"domain":[0,-1553],"nice":false}},
   "color":{"condition":[{"test":"datum.jahr == 2016","value":"#ff0000"},{"test":"datum.jahr == 1998","value":"#ffcccc"}],"value":"#ff9999"}}},
  {"width":14,"height":166,"data":{"values":[]},"mark":"text","encoding":{"text":{"value":""}}}]}
]},
{"width":2,"height":427,"view":{"fill":"#b0b0b0"},"data":{"values":[]},"mark":"text","encoding":{"text":{"value":""}}},
{"vconcat":[
 {"vconcat":[
  {"width":300,"height":44,"view":{"fill":"#7f7f7f"},"data":{"name":"info"},"transform":[{"filter":"datum.k=='K7'"}],"layer":[
   {"mark":{"type":"text","fontSize":22,"fontWeight":"bold","color":"#1a1a1a","opacity":0.8,"dx":1.5,"dy":5},"encoding":{"text":{"field":"titel"}}},
   {"mark":{"type":"text","fontSize":22,"fontWeight":"bold","color":"white","dy":3},"encoding":{"text":{"field":"titel"}}}]},
  {"width":300,"height":42,"data":{"name":"info"},"transform":[{"filter":"datum.k=='K7'"}],"layer":[
   {"mark":{"type":"text","fontSize":24,"fontWeight":"bold","align":"right","baseline":"alphabetic","dx":-9.7,"dy":11,"color":"black"},"encoding":{"text":{"field":"label"}}},
   {"mark":{"type":"text","fontSize":24,"align":"left","baseline":"alphabetic","dx":-5.1,"dy":11,"color":"black"},"encoding":{"text":{"field":"aktuell"}}}]},
  {"hconcat":[
   {"width":28,"height":46,"view":{"fill":"#ff0000"},"data":{"values":[{}]},"mark":{"type":"text","angle":270,"fontSize":14,"color":"white"},"encoding":{"text":{"value":"MIN"}}},
   {"width":122,"height":46,"data":{"name":"info"},"transform":[{"filter":"datum.k=='K7'"}],"layer":[
    {"mark":{"type":"text","fontSize":23,"align":"right","baseline":"alphabetic","dx":5.2,"dy":10,"color":"black"},"encoding":{"text":{"field":"min"}}},
    {"mark":{"type":"text","fontSize":17,"align":"left","baseline":"alphabetic","dx":9.2,"dy":10,"color":"black"},"encoding":{"text":{"field":"minj"}}}]},
   {"width":28,"height":46,"view":{"fill":"#ffc9c9"},"data":{"values":[{}]},"mark":{"type":"text","angle":270,"fontSize":14,"color":"#262626"},"encoding":{"text":{"value":"MAX"}}},
   {"width":122,"height":46,"data":{"name":"info"},"transform":[{"filter":"datum.k=='K7'"}],"layer":[
    {"mark":{"type":"text","fontSize":23,"align":"right","baseline":"alphabetic","dx":5.2,"dy":10,"color":"black"},"encoding":{"text":{"field":"max"}}},
    {"mark":{"type":"text","fontSize":17,"align":"left","baseline":"alphabetic","dx":9.2,"dy":10,"color":"black"},"encoding":{"text":{"field":"maxj"}}}]}]},
  {"width":300,"height":80,"data":{"name":"werte"},"mark":{"type":"bar","clip":true},"encoding":{
   "x":{"field":"jahr","type":"ordinal","axis":null,"scale":{"paddingInner":0.15,"paddingOuter":1}},
   "y":{"field":"K7","type":"quantitative","axis":null,"scale":{"domain":[0,-648],"nice":false}},
   "color":{"condition":[{"test":"datum.jahr == 2019","value":"#ff0000"},{"test":"datum.jahr == 1991","value":"#ffcccc"}],"value":"#ff9999"}}}
 ]},
 {"vconcat":[
  {"width":300,"height":44,"view":{"fill":"#7f7f7f"},"data":{"name":"info"},"transform":[{"filter":"datum.k=='K10'"}],"layer":[
   {"mark":{"type":"text","fontSize":22,"fontWeight":"bold","color":"#1a1a1a","opacity":0.8,"dx":1.5,"dy":5},"encoding":{"text":{"field":"titel"}}},
   {"mark":{"type":"text","fontSize":22,"fontWeight":"bold","color":"white","dy":3},"encoding":{"text":{"field":"titel"}}}]},
  {"width":300,"height":42,"data":{"name":"info"},"transform":[{"filter":"datum.k=='K10'"}],"layer":[
   {"mark":{"type":"text","fontSize":24,"fontWeight":"bold","align":"right","baseline":"alphabetic","dx":5.3,"dy":11,"color":"black"},"encoding":{"text":{"field":"label"}}},
   {"mark":{"type":"text","fontSize":24,"align":"left","baseline":"alphabetic","dx":9.9,"dy":11,"color":"black"},"encoding":{"text":{"field":"aktuell"}}}]},
  {"hconcat":[
   {"width":28,"height":46,"view":{"fill":"#ff0000"},"data":{"values":[{}]},"mark":{"type":"text","angle":270,"fontSize":14,"color":"white"},"encoding":{"text":{"value":"MIN"}}},
   {"width":122,"height":46,"data":{"name":"info"},"transform":[{"filter":"datum.k=='K10'"}],"layer":[
    {"mark":{"type":"text","fontSize":23,"align":"right","baseline":"alphabetic","dx":-1.5,"dy":10,"color":"black"},"encoding":{"text":{"field":"min"}}},
    {"mark":{"type":"text","fontSize":17,"align":"left","baseline":"alphabetic","dx":2.5,"dy":10,"color":"black"},"encoding":{"text":{"field":"minj"}}}]},
   {"width":28,"height":46,"view":{"fill":"#ffc9c9"},"data":{"values":[{}]},"mark":{"type":"text","angle":270,"fontSize":14,"color":"#262626"},"encoding":{"text":{"value":"MAX"}}},
   {"width":122,"height":46,"data":{"name":"info"},"transform":[{"filter":"datum.k=='K10'"}],"layer":[
    {"mark":{"type":"text","fontSize":23,"align":"right","baseline":"alphabetic","dx":-8.2,"dy":10,"color":"black"},"encoding":{"text":{"field":"max"}}},
    {"mark":{"type":"text","fontSize":17,"align":"left","baseline":"alphabetic","dx":-4.2,"dy":10,"color":"black"},"encoding":{"text":{"field":"maxj"}}}]}]},
  {"width":300,"height":80,"data":{"name":"werte"},"mark":{"type":"bar","clip":true},"encoding":{
   "x":{"field":"jahr","type":"ordinal","axis":null,"scale":{"paddingInner":0.15,"paddingOuter":1}},
   "y":{"field":"K10","type":"quantitative","axis":null,"scale":{"domain":[0,-14],"nice":false}},
   "color":{"condition":[{"test":"datum.jahr == 1994","value":"#ff0000"},{"test":"datum.jahr == 1991","value":"#ffcccc"}],"value":"#ff9999"}}}
 ]}
],"spacing":3},
{"width":2,"height":427,"view":{"fill":"#b0b0b0"},"data":{"values":[]},"mark":"text","encoding":{"text":{"value":""}}},
{"vconcat":[
 {"vconcat":[
  {"width":300,"height":44,"view":{"fill":"#7f7f7f"},"data":{"name":"info"},"transform":[{"filter":"datum.k=='K8'"}],"layer":[
   {"mark":{"type":"text","fontSize":22,"fontWeight":"bold","color":"#1a1a1a","opacity":0.8,"dx":1.5,"dy":5},"encoding":{"text":{"field":"titel"}}},
   {"mark":{"type":"text","fontSize":22,"fontWeight":"bold","color":"white","dy":3},"encoding":{"text":{"field":"titel"}}}]},
  {"width":300,"height":42,"data":{"name":"info"},"transform":[{"filter":"datum.k=='K8'"}],"layer":[
   {"mark":{"type":"text","fontSize":24,"fontWeight":"bold","align":"right","baseline":"alphabetic","dx":-5.6,"dy":11,"color":"black"},"encoding":{"text":{"field":"label"}}},
   {"mark":{"type":"text","fontSize":24,"align":"left","baseline":"alphabetic","dx":-1,"dy":11,"color":"black"},"encoding":{"text":{"field":"aktuell"}}}]},
  {"hconcat":[
   {"width":28,"height":46,"view":{"fill":"#ff0000"},"data":{"values":[{}]},"mark":{"type":"text","angle":270,"fontSize":14,"color":"white"},"encoding":{"text":{"value":"MIN"}}},
   {"width":122,"height":46,"data":{"name":"info"},"transform":[{"filter":"datum.k=='K8'"}],"layer":[
    {"mark":{"type":"text","fontSize":23,"align":"right","baseline":"alphabetic","dx":-1.5,"dy":10,"color":"black"},"encoding":{"text":{"field":"min"}}},
    {"mark":{"type":"text","fontSize":17,"align":"left","baseline":"alphabetic","dx":2.5,"dy":10,"color":"black"},"encoding":{"text":{"field":"minj"}}}]},
   {"width":28,"height":46,"view":{"fill":"#ffc9c9"},"data":{"values":[{}]},"mark":{"type":"text","angle":270,"fontSize":14,"color":"#262626"},"encoding":{"text":{"value":"MAX"}}},
   {"width":122,"height":46,"data":{"name":"info"},"transform":[{"filter":"datum.k=='K8'"}],"layer":[
    {"mark":{"type":"text","fontSize":23,"align":"right","baseline":"alphabetic","dx":-1.5,"dy":10,"color":"black"},"encoding":{"text":{"field":"max"}}},
    {"mark":{"type":"text","fontSize":17,"align":"left","baseline":"alphabetic","dx":2.5,"dy":10,"color":"black"},"encoding":{"text":{"field":"maxj"}}}]}]},
  {"width":300,"height":80,"data":{"name":"werte"},"mark":{"type":"bar","clip":true},"encoding":{
   "x":{"field":"jahr","type":"ordinal","axis":null,"scale":{"paddingInner":0.15,"paddingOuter":1}},
   "y":{"field":"K8","type":"quantitative","axis":null,"scale":{"domain":[0,-50.3],"nice":false}},
   "color":{"condition":[{"test":"datum.jahr == 2019","value":"#ff0000"},{"test":"datum.jahr == 2010","value":"#ffcccc"}],"value":"#ff9999"}}}
 ]},
 {"vconcat":[
  {"width":300,"height":44,"view":{"fill":"#7f7f7f"},"data":{"name":"info"},"transform":[{"filter":"datum.k=='K11'"}],"layer":[
   {"mark":{"type":"text","fontSize":19,"fontWeight":"bold","color":"#1a1a1a","opacity":0.8,"dx":1.5,"dy":5},"encoding":{"text":{"field":"titel"}}},
   {"mark":{"type":"text","fontSize":19,"fontWeight":"bold","color":"white","dy":3},"encoding":{"text":{"field":"titel"}}}]},
  {"width":300,"height":42,"data":{"name":"info"},"transform":[{"filter":"datum.k=='K11'"}],"layer":[
   {"mark":{"type":"text","fontSize":24,"fontWeight":"bold","align":"right","baseline":"alphabetic","dx":-12.6,"dy":11,"color":"black"},"encoding":{"text":{"field":"label"}}},
   {"mark":{"type":"text","fontSize":24,"align":"left","baseline":"alphabetic","dx":-8,"dy":11,"color":"black"},"encoding":{"text":{"field":"aktuell"}}}]},
  {"hconcat":[
   {"width":28,"height":46,"view":{"fill":"#ff0000"},"data":{"values":[{}]},"mark":{"type":"text","angle":270,"fontSize":14,"color":"white"},"encoding":{"text":{"value":"MIN"}}},
   {"width":122,"height":46,"data":{"name":"info"},"transform":[{"filter":"datum.k=='K11'"}],"mark":{"type":"text","fontSize":23,"baseline":"alphabetic","dy":10,"color":"black"},"encoding":{"text":{"field":"min"}}},
   {"width":28,"height":46,"view":{"fill":"#ffc9c9"},"data":{"values":[{}]},"mark":{"type":"text","angle":270,"fontSize":14,"color":"#262626"},"encoding":{"text":{"value":"MAX"}}},
   {"width":122,"height":46,"data":{"name":"info"},"transform":[{"filter":"datum.k=='K11'"}],"mark":{"type":"text","fontSize":23,"baseline":"alphabetic","dy":10,"color":"black"},"encoding":{"text":{"field":"max"}}}]},
  {"width":300,"height":80,"data":{"name":"werte"},"mark":{"type":"bar","clip":true},"encoding":{
   "x":{"field":"jahr","type":"ordinal","axis":null,"scale":{"paddingInner":0.15,"paddingOuter":1}},
   "y":{"field":"K11","type":"quantitative","axis":null,"scale":{"domain":[0,-158],"nice":false}},
   "color":{"value":"#ff9999"}}}
 ]}
],"spacing":3},
{"width":2,"height":427,"view":{"fill":"#b0b0b0"},"data":{"values":[]},"mark":"text","encoding":{"text":{"value":""}}},
{"vconcat":[
 {"vconcat":[
  {"width":299,"height":44,"view":{"fill":"#7f7f7f"},"data":{"name":"info"},"transform":[{"filter":"datum.k=='K9'"}],"layer":[
   {"mark":{"type":"text","fontSize":22,"fontWeight":"bold","color":"#1a1a1a","opacity":0.8,"dx":1.5,"dy":5},"encoding":{"text":{"field":"titel"}}},
   {"mark":{"type":"text","fontSize":22,"fontWeight":"bold","color":"white","dy":3},"encoding":{"text":{"field":"titel"}}}]},
  {"width":299,"height":42,"data":{"name":"info"},"transform":[{"filter":"datum.k=='K9'"}],"layer":[
   {"mark":{"type":"text","fontSize":24,"fontWeight":"bold","align":"right","baseline":"alphabetic","dx":-5.6,"dy":11,"color":"black"},"encoding":{"text":{"field":"label"}}},
   {"mark":{"type":"text","fontSize":24,"align":"left","baseline":"alphabetic","dx":-1,"dy":11,"color":"black"},"encoding":{"text":{"field":"aktuell"}}}]},
  {"hconcat":[
   {"width":28,"height":46,"view":{"fill":"#ff0000"},"data":{"values":[{}]},"mark":{"type":"text","angle":270,"fontSize":14,"color":"white"},"encoding":{"text":{"value":"MIN"}}},
   {"width":122,"height":46,"data":{"name":"info"},"transform":[{"filter":"datum.k=='K9'"}],"layer":[
    {"mark":{"type":"text","fontSize":23,"align":"right","baseline":"alphabetic","dx":-1.5,"dy":10,"color":"black"},"encoding":{"text":{"field":"min"}}},
    {"mark":{"type":"text","fontSize":17,"align":"left","baseline":"alphabetic","dx":2.5,"dy":10,"color":"black"},"encoding":{"text":{"field":"minj"}}}]},
   {"width":28,"height":46,"view":{"fill":"#ffc9c9"},"data":{"values":[{}]},"mark":{"type":"text","angle":270,"fontSize":14,"color":"#262626"},"encoding":{"text":{"value":"MAX"}}},
   {"width":121,"height":46,"data":{"name":"info"},"transform":[{"filter":"datum.k=='K9'"}],"layer":[
    {"mark":{"type":"text","fontSize":23,"align":"right","baseline":"alphabetic","dx":-1.5,"dy":10,"color":"black"},"encoding":{"text":{"field":"max"}}},
    {"mark":{"type":"text","fontSize":17,"align":"left","baseline":"alphabetic","dx":2.5,"dy":10,"color":"black"},"encoding":{"text":{"field":"maxj"}}}]}]},
  {"width":299,"height":80,"data":{"name":"werte"},"mark":{"type":"bar","clip":true},"encoding":{
   "x":{"field":"jahr","type":"ordinal","axis":null,"scale":{"paddingInner":0.15,"paddingOuter":1}},
   "y":{"field":"K9","type":"quantitative","axis":null,"scale":{"domain":[0,-53.3],"nice":false}},
   "color":{"condition":[{"test":"datum.jahr == 1991","value":"#ff0000"},{"test":"datum.jahr == 2020","value":"#ffcccc"}],"value":"#ff9999"}}}
 ]},
 {"vconcat":[
  {"width":299,"height":44,"view":{"fill":"#7f7f7f"},"data":{"name":"info"},"transform":[{"filter":"datum.k=='K12'"}],"layer":[
   {"mark":{"type":"text","fontSize":22,"fontWeight":"bold","color":"#1a1a1a","opacity":0.8,"dx":1.5,"dy":5},"encoding":{"text":{"field":"titel"}}},
   {"mark":{"type":"text","fontSize":22,"fontWeight":"bold","color":"white","dy":3},"encoding":{"text":{"field":"titel"}}}]},
  {"width":299,"height":42,"data":{"name":"info"},"transform":[{"filter":"datum.k=='K12'"}],"layer":[
   {"mark":{"type":"text","fontSize":24,"fontWeight":"bold","align":"right","baseline":"alphabetic","dx":-5.6,"dy":11,"color":"black"},"encoding":{"text":{"field":"label"}}},
   {"mark":{"type":"text","fontSize":24,"align":"left","baseline":"alphabetic","dx":-1,"dy":11,"color":"black"},"encoding":{"text":{"field":"aktuell"}}}]},
  {"hconcat":[
   {"width":28,"height":46,"view":{"fill":"#ff0000"},"data":{"values":[{}]},"mark":{"type":"text","angle":270,"fontSize":14,"color":"white"},"encoding":{"text":{"value":"MIN"}}},
   {"width":122,"height":46,"data":{"name":"info"},"transform":[{"filter":"datum.k=='K12'"}],"layer":[
    {"mark":{"type":"text","fontSize":23,"align":"right","baseline":"alphabetic","dx":-1.5,"dy":10,"color":"black"},"encoding":{"text":{"field":"min"}}},
    {"mark":{"type":"text","fontSize":17,"align":"left","baseline":"alphabetic","dx":2.5,"dy":10,"color":"black"},"encoding":{"text":{"field":"minj"}}}]},
   {"width":28,"height":46,"view":{"fill":"#ffc9c9"},"data":{"values":[{}]},"mark":{"type":"text","angle":270,"fontSize":14,"color":"#262626"},"encoding":{"text":{"value":"MAX"}}},
   {"width":121,"height":46,"data":{"name":"info"},"transform":[{"filter":"datum.k=='K12'"}],"layer":[
    {"mark":{"type":"text","fontSize":23,"align":"right","baseline":"alphabetic","dx":-1.5,"dy":10,"color":"black"},"encoding":{"text":{"field":"max"}}},
    {"mark":{"type":"text","fontSize":17,"align":"left","baseline":"alphabetic","dx":2.5,"dy":10,"color":"black"},"encoding":{"text":{"field":"maxj"}}}]}]},
  {"width":299,"height":80,"data":{"name":"werte"},"mark":{"type":"bar","clip":true},"encoding":{
   "x":{"field":"jahr","type":"ordinal","axis":null,"scale":{"paddingInner":0.15,"paddingOuter":1}},
   "y":{"field":"K12","type":"quantitative","axis":null,"scale":{"domain":[0,-62.3],"nice":false}},
   "color":{"condition":[{"test":"datum.jahr == 2020","value":"#ff0000"},{"test":"datum.jahr == 2009","value":"#ffcccc"}],"value":"#ff9999"}}}
 ]}
],"spacing":3}
]},
{"width":1209,"height":3,"view":{"fill":"#b0b0b0"},"data":{"values":[]},"mark":"text","encoding":{"text":{"value":""}}},
{"hconcat":[
{"width":2,"height":212,"view":{"fill":"#b0b0b0"},"data":{"values":[]},"mark":"text","encoding":{"text":{"value":""}}},
{"vconcat":[
 {"width":302,"height":44,"view":{"fill":"#7f7f7f"},"data":{"name":"info"},"transform":[{"filter":"datum.k=='K13'"}],"layer":[
  {"mark":{"type":"text","fontSize":22,"fontWeight":"bold","color":"#1a1a1a","opacity":0.8,"dx":1.5,"dy":5},"encoding":{"text":{"field":"titel"}}},
  {"mark":{"type":"text","fontSize":22,"fontWeight":"bold","color":"white","dy":3},"encoding":{"text":{"field":"titel"}}}]},
 {"width":302,"height":42,"data":{"name":"info"},"transform":[{"filter":"datum.k=='K13'"}],"layer":[
  {"mark":{"type":"text","fontSize":24,"fontWeight":"bold","align":"right","baseline":"alphabetic","dx":-5.6,"dy":11,"color":"black"},"encoding":{"text":{"field":"label"}}},
  {"mark":{"type":"text","fontSize":24,"align":"left","baseline":"alphabetic","dx":-1,"dy":11,"color":"black"},"encoding":{"text":{"field":"aktuell"}}}]},
 {"hconcat":[
  {"width":31,"height":46,"view":{"fill":"#ff0000"},"data":{"values":[{}]},"mark":{"type":"text","angle":270,"fontSize":14,"color":"white"},"encoding":{"text":{"value":"MIN"}}},
  {"width":120,"height":46,"data":{"name":"info"},"transform":[{"filter":"datum.k=='K13'"}],"layer":[
   {"mark":{"type":"text","fontSize":23,"align":"right","baseline":"alphabetic","dx":-1.5,"dy":10,"color":"black"},"encoding":{"text":{"field":"min"}}},
   {"mark":{"type":"text","fontSize":17,"align":"left","baseline":"alphabetic","dx":2.5,"dy":10,"color":"black"},"encoding":{"text":{"field":"minj"}}}]},
  {"width":31,"height":46,"view":{"fill":"#ffc9c9"},"data":{"values":[{}]},"mark":{"type":"text","angle":270,"fontSize":14,"color":"#262626"},"encoding":{"text":{"value":"MAX"}}},
  {"width":120,"height":46,"data":{"name":"info"},"transform":[{"filter":"datum.k=='K13'"}],"layer":[
   {"mark":{"type":"text","fontSize":23,"align":"right","baseline":"alphabetic","dx":-1.5,"dy":10,"color":"black"},"encoding":{"text":{"field":"max"}}},
   {"mark":{"type":"text","fontSize":17,"align":"left","baseline":"alphabetic","dx":2.5,"dy":10,"color":"black"},"encoding":{"text":{"field":"maxj"}}}]}]},
 {"width":302,"height":80,"data":{"name":"werte"},"mark":{"type":"bar","clip":true},"encoding":{
  "x":{"field":"jahr","type":"ordinal","axis":null,"scale":{"paddingInner":0.15,"paddingOuter":1}},
  "y":{"field":"K13","type":"quantitative","axis":null,"scale":{"domain":[0,-28.3],"nice":false}},
  "color":{"condition":[{"test":"datum.jahr == 1991","value":"#ff0000"},{"test":"datum.jahr == 2020","value":"#ffcccc"}],"value":"#ff9999"}}}
]},
{"width":2,"height":212,"view":{"fill":"#b0b0b0"},"data":{"values":[]},"mark":"text","encoding":{"text":{"value":""}}},
{"vconcat":[
 {"width":300,"height":44,"view":{"fill":"#7f7f7f"},"data":{"name":"info"},"transform":[{"filter":"datum.k=='K14'"}],"layer":[
  {"mark":{"type":"text","fontSize":22,"fontWeight":"bold","color":"#1a1a1a","opacity":0.8,"dx":1.5,"dy":5},"encoding":{"text":{"field":"titel"}}},
  {"mark":{"type":"text","fontSize":22,"fontWeight":"bold","color":"white","dy":3},"encoding":{"text":{"field":"titel"}}}]},
 {"width":300,"height":42,"data":{"name":"info"},"transform":[{"filter":"datum.k=='K14'"}],"layer":[
  {"mark":{"type":"text","fontSize":24,"fontWeight":"bold","align":"right","baseline":"alphabetic","dx":-8.5,"dy":11,"color":"black"},"encoding":{"text":{"field":"label"}}},
  {"mark":{"type":"text","fontSize":24,"align":"left","baseline":"alphabetic","dx":-3.9,"dy":11,"color":"black"},"encoding":{"text":{"field":"aktuell"}}}]},
 {"hconcat":[
  {"width":28,"height":46,"view":{"fill":"#ff0000"},"data":{"values":[{}]},"mark":{"type":"text","angle":270,"fontSize":14,"color":"white"},"encoding":{"text":{"value":"MIN"}}},
  {"width":122,"height":46,"data":{"name":"info"},"transform":[{"filter":"datum.k=='K14'"}],"mark":{"type":"text","fontSize":23,"baseline":"alphabetic","dy":10,"color":"black"},"encoding":{"text":{"field":"min"}}},
  {"width":28,"height":46,"view":{"fill":"#ffc9c9"},"data":{"values":[{}]},"mark":{"type":"text","angle":270,"fontSize":14,"color":"#262626"},"encoding":{"text":{"value":"MAX"}}},
  {"width":122,"height":46,"data":{"name":"info"},"transform":[{"filter":"datum.k=='K14'"}],"mark":{"type":"text","fontSize":23,"baseline":"alphabetic","dy":10,"color":"black"},"encoding":{"text":{"field":"max"}}}]},
 {"width":300,"height":80,"data":{"name":"werte"},"mark":{"type":"bar","clip":true},"encoding":{
  "x":{"field":"jahr","type":"ordinal","axis":null,"scale":{"paddingInner":0.15,"paddingOuter":1}},
  "y":{"field":"K14","type":"quantitative","axis":null,"scale":{"domain":[0,-1.2],"nice":false}},
  "color":{"value":"#ff9999"}}}
]},
{"width":2,"height":212,"view":{"fill":"#b0b0b0"},"data":{"values":[]},"mark":"text","encoding":{"text":{"value":""}}},
{"vconcat":[
 {"width":300,"height":44,"view":{"fill":"#7f7f7f"},"data":{"name":"info"},"transform":[{"filter":"datum.k=='K15'"}],"layer":[
  {"mark":{"type":"text","fontSize":22,"fontWeight":"bold","color":"#1a1a1a","opacity":0.8,"dx":1.5,"dy":5},"encoding":{"text":{"field":"titel"}}},
  {"mark":{"type":"text","fontSize":22,"fontWeight":"bold","color":"white","dy":3},"encoding":{"text":{"field":"titel"}}}]},
 {"width":300,"height":42,"data":{"name":"info"},"transform":[{"filter":"datum.k=='K15'"}],"layer":[
  {"mark":{"type":"text","fontSize":24,"fontWeight":"bold","align":"right","baseline":"alphabetic","dx":7.1,"dy":11,"color":"black"},"encoding":{"text":{"field":"label"}}},
  {"mark":{"type":"text","fontSize":24,"align":"left","baseline":"alphabetic","dx":11.7,"dy":11,"color":"black"},"encoding":{"text":{"field":"aktuell"}}}]},
 {"hconcat":[
  {"width":28,"height":46,"view":{"fill":"#ff0000"},"data":{"values":[{}]},"mark":{"type":"text","angle":270,"fontSize":14,"color":"white"},"encoding":{"text":{"value":"MIN"}}},
  {"width":122,"height":46,"data":{"name":"info"},"transform":[{"filter":"datum.k=='K15'"}],"layer":[
   {"mark":{"type":"text","fontSize":23,"align":"right","baseline":"alphabetic","dx":5.2,"dy":10,"color":"black"},"encoding":{"text":{"field":"min"}}},
   {"mark":{"type":"text","fontSize":17,"align":"left","baseline":"alphabetic","dx":9.2,"dy":10,"color":"black"},"encoding":{"text":{"field":"minj"}}}]},
  {"width":28,"height":46,"view":{"fill":"#ffc9c9"},"data":{"values":[{}]},"mark":{"type":"text","angle":270,"fontSize":14,"color":"#262626"},"encoding":{"text":{"value":"MAX"}}},
  {"width":122,"height":46,"data":{"name":"info"},"transform":[{"filter":"datum.k=='K15'"}],"layer":[
   {"mark":{"type":"text","fontSize":23,"align":"right","baseline":"alphabetic","dx":-1.5,"dy":10,"color":"black"},"encoding":{"text":{"field":"max"}}},
   {"mark":{"type":"text","fontSize":17,"align":"left","baseline":"alphabetic","dx":2.5,"dy":10,"color":"black"},"encoding":{"text":{"field":"maxj"}}}]}]},
 {"width":300,"height":80,"data":{"name":"werte"},"mark":{"type":"bar","clip":true},"encoding":{
  "x":{"field":"jahr","type":"ordinal","axis":null,"scale":{"paddingInner":0.15,"paddingOuter":1}},
  "y":{"field":"K15","type":"quantitative","axis":null,"scale":{"domain":[0,-132.5],"nice":false}},
  "color":{"condition":[{"test":"datum.jahr == 1991","value":"#ff0000"},{"test":"datum.jahr == 2020","value":"#ffcccc"}],"value":"#ff9999"}}}
]},
{"width":2,"height":212,"view":{"fill":"#b0b0b0"},"data":{"values":[]},"mark":"text","encoding":{"text":{"value":""}}},
{"vconcat":[
 {"width":299,"height":44,"view":{"fill":"#7f7f7f"},"data":{"name":"info"},"transform":[{"filter":"datum.k=='K16'"}],"layer":[
  {"mark":{"type":"text","fontSize":22,"fontWeight":"bold","color":"#1a1a1a","opacity":0.8,"dx":1.5,"dy":5},"encoding":{"text":{"field":"titel"}}},
  {"mark":{"type":"text","fontSize":22,"fontWeight":"bold","color":"white","dy":3},"encoding":{"text":{"field":"titel"}}}]},
 {"width":299,"height":42,"data":{"name":"info"},"transform":[{"filter":"datum.k=='K16'"}],"layer":[
  {"mark":{"type":"text","fontSize":24,"fontWeight":"bold","align":"right","baseline":"alphabetic","dx":1.3,"dy":11,"color":"black"},"encoding":{"text":{"field":"label"}}},
  {"mark":{"type":"text","fontSize":24,"align":"left","baseline":"alphabetic","dx":5.9,"dy":11,"color":"black"},"encoding":{"text":{"field":"aktuell"}}}]},
 {"hconcat":[
  {"width":28,"height":46,"view":{"fill":"#ff0000"},"data":{"values":[{}]},"mark":{"type":"text","angle":270,"fontSize":14,"color":"white"},"encoding":{"text":{"value":"MIN"}}},
  {"width":122,"height":46,"data":{"name":"info"},"transform":[{"filter":"datum.k=='K16'"}],"layer":[
   {"mark":{"type":"text","fontSize":23,"align":"right","baseline":"alphabetic","dx":-8.2,"dy":10,"color":"black"},"encoding":{"text":{"field":"min"}}},
   {"mark":{"type":"text","fontSize":17,"align":"left","baseline":"alphabetic","dx":-4.2,"dy":10,"color":"black"},"encoding":{"text":{"field":"minj"}}}]},
  {"width":28,"height":46,"view":{"fill":"#ffc9c9"},"data":{"values":[{}]},"mark":{"type":"text","angle":270,"fontSize":14,"color":"#262626"},"encoding":{"text":{"value":"MAX"}}},
  {"width":121,"height":46,"data":{"name":"info"},"transform":[{"filter":"datum.k=='K16'"}],"layer":[
   {"mark":{"type":"text","fontSize":23,"align":"right","baseline":"alphabetic","dx":-8.2,"dy":10,"color":"black"},"encoding":{"text":{"field":"max"}}},
   {"mark":{"type":"text","fontSize":17,"align":"left","baseline":"alphabetic","dx":-4.2,"dy":10,"color":"black"},"encoding":{"text":{"field":"maxj"}}}]}]},
 {"width":299,"height":80,"data":{"name":"werte"},"mark":{"type":"bar","clip":true},"encoding":{
  "x":{"field":"jahr","type":"ordinal","axis":null,"scale":{"paddingInner":0.15,"paddingOuter":1}},
  "y":{"field":"K16","type":"quantitative","axis":null,"scale":{"domain":[0,-8.2],"nice":false}},
  "color":{"condition":[{"test":"datum.jahr == 2011","value":"#ff0000"},{"test":"datum.jahr == 1991","value":"#ffcccc"}],"value":"#ff9999"}}}
]}
]},
{"width":1209,"height":3,"view":{"fill":"#b0b0b0"},"data":{"values":[]},"mark":"text","encoding":{"text":{"value":""}}},
{"hconcat":[
{"width":2,"height":208,"view":{"fill":"#b0b0b0"},"data":{"values":[]},"mark":"text","encoding":{"text":{"value":""}}},
{"vconcat":[
 {"width":241,"height":44,"view":{"fill":"#7f7f7f"},"data":{"name":"info"},"transform":[{"filter":"datum.k=='K17'"}],"layer":[
  {"mark":{"type":"text","fontSize":19,"fontWeight":"bold","color":"#1a1a1a","opacity":0.8,"dx":1.5,"dy":5},"encoding":{"text":{"field":"titel"}}},
  {"mark":{"type":"text","fontSize":19,"fontWeight":"bold","color":"white","dy":3},"encoding":{"text":{"field":"titel"}}}]},
 {"width":241,"height":42,"data":{"name":"info"},"transform":[{"filter":"datum.k=='K17'"}],"layer":[
  {"mark":{"type":"text","fontSize":24,"fontWeight":"bold","align":"right","baseline":"alphabetic","dx":1.3,"dy":11,"color":"black"},"encoding":{"text":{"field":"label"}}},
  {"mark":{"type":"text","fontSize":24,"align":"left","baseline":"alphabetic","dx":5.9,"dy":11,"color":"black"},"encoding":{"text":{"field":"aktuell"}}}]},
 {"hconcat":[
  {"width":30,"height":46,"view":{"fill":"#ff0000"},"data":{"values":[{}]},"mark":{"type":"text","angle":270,"fontSize":14,"color":"white"},"encoding":{"text":{"value":"MIN"}}},
  {"width":90,"height":46,"data":{"name":"info"},"transform":[{"filter":"datum.k=='K17'"}],"layer":[
   {"mark":{"type":"text","fontSize":23,"align":"right","baseline":"alphabetic","dx":-1.5,"dy":10,"color":"black"},"encoding":{"text":{"field":"min"}}},
   {"mark":{"type":"text","fontSize":17,"align":"left","baseline":"alphabetic","dx":2.5,"dy":10,"color":"black"},"encoding":{"text":{"field":"minj"}}}]},
  {"width":31,"height":46,"view":{"fill":"#ffc9c9"},"data":{"values":[{}]},"mark":{"type":"text","angle":270,"fontSize":14,"color":"#262626"},"encoding":{"text":{"value":"MAX"}}},
  {"width":90,"height":46,"data":{"name":"info"},"transform":[{"filter":"datum.k=='K17'"}],"layer":[
   {"mark":{"type":"text","fontSize":23,"align":"right","baseline":"alphabetic","dx":-8.2,"dy":10,"color":"black"},"encoding":{"text":{"field":"max"}}},
   {"mark":{"type":"text","fontSize":17,"align":"left","baseline":"alphabetic","dx":-4.2,"dy":10,"color":"black"},"encoding":{"text":{"field":"maxj"}}}]}]},
 {"width":241,"height":76,"data":{"name":"werte"},"mark":{"type":"bar","clip":true},"encoding":{
  "x":{"field":"jahr","type":"ordinal","axis":null,"scale":{"paddingInner":0.15,"paddingOuter":1}},
  "y":{"field":"K17","type":"quantitative","axis":null,"scale":{"domain":[0,-24],"nice":false}},
  "color":{"condition":[{"test":"datum.jahr == 2002","value":"#ff0000"},{"test":"datum.jahr == 1991","value":"#ffcccc"}],"value":"#ff9999"}}}
]},
{"width":2,"height":208,"view":{"fill":"#b0b0b0"},"data":{"values":[]},"mark":"text","encoding":{"text":{"value":""}}},
{"vconcat":[
 {"width":240,"height":44,"view":{"fill":"#7f7f7f"},"data":{"name":"info"},"transform":[{"filter":"datum.k=='K18'"}],"layer":[
  {"mark":{"type":"text","fontSize":22,"fontWeight":"bold","color":"#1a1a1a","opacity":0.8,"dx":1.5,"dy":5},"encoding":{"text":{"field":"titel"}}},
  {"mark":{"type":"text","fontSize":22,"fontWeight":"bold","color":"white","dy":3},"encoding":{"text":{"field":"titel"}}}]},
 {"width":240,"height":42,"data":{"name":"info"},"transform":[{"filter":"datum.k=='K18'"}],"layer":[
  {"mark":{"type":"text","fontSize":24,"fontWeight":"bold","align":"right","baseline":"alphabetic","dx":-12.6,"dy":11,"color":"black"},"encoding":{"text":{"field":"label"}}},
  {"mark":{"type":"text","fontSize":24,"align":"left","baseline":"alphabetic","dx":-8,"dy":11,"color":"black"},"encoding":{"text":{"field":"aktuell"}}}]},
 {"hconcat":[
  {"width":30,"height":46,"view":{"fill":"#ff0000"},"data":{"values":[{}]},"mark":{"type":"text","angle":270,"fontSize":14,"color":"white"},"encoding":{"text":{"value":"MIN"}}},
  {"width":90,"height":46,"data":{"name":"info"},"transform":[{"filter":"datum.k=='K18'"}],"layer":[
   {"mark":{"type":"text","fontSize":23,"align":"right","baseline":"alphabetic","dx":5.2,"dy":10,"color":"black"},"encoding":{"text":{"field":"min"}}},
   {"mark":{"type":"text","fontSize":17,"align":"left","baseline":"alphabetic","dx":9.2,"dy":10,"color":"black"},"encoding":{"text":{"field":"minj"}}}]},
  {"width":30,"height":46,"view":{"fill":"#ffc9c9"},"data":{"values":[{}]},"mark":{"type":"text","angle":270,"fontSize":14,"color":"#262626"},"encoding":{"text":{"value":"MAX"}}},
  {"width":90,"height":46,"data":{"name":"info"},"transform":[{"filter":"datum.k=='K18'"}],"layer":[
   {"mark":{"type":"text","fontSize":23,"align":"right","baseline":"alphabetic","dx":5.2,"dy":10,"color":"black"},"encoding":{"text":{"field":"max"}}},
   {"mark":{"type":"text","fontSize":17,"align":"left","baseline":"alphabetic","dx":9.2,"dy":10,"color":"black"},"encoding":{"text":{"field":"maxj"}}}]}]},
 {"width":240,"height":76,"data":{"name":"werte"},"mark":{"type":"bar","clip":true},"encoding":{
  "x":{"field":"jahr","type":"ordinal","axis":null,"scale":{"paddingInner":0.15,"paddingOuter":1}},
  "y":{"field":"K18","type":"quantitative","axis":null,"scale":{"domain":[0,-176],"nice":false}},
  "color":{"condition":[{"test":"datum.jahr == 2016","value":"#ff0000"},{"test":"datum.jahr == 2020","value":"#ffcccc"}],"value":"#ff9999"}}}
]},
{"width":2,"height":208,"view":{"fill":"#b0b0b0"},"data":{"values":[]},"mark":"text","encoding":{"text":{"value":""}}},
{"vconcat":[
 {"width":240,"height":44,"view":{"fill":"#7f7f7f"},"data":{"name":"info"},"transform":[{"filter":"datum.k=='K19'"}],"layer":[
  {"mark":{"type":"text","fontSize":22,"fontWeight":"bold","color":"#1a1a1a","opacity":0.8,"dx":1.5,"dy":5},"encoding":{"text":{"field":"titel"}}},
  {"mark":{"type":"text","fontSize":22,"fontWeight":"bold","color":"white","dy":3},"encoding":{"text":{"field":"titel"}}}]},
 {"width":240,"height":42,"data":{"name":"info"},"transform":[{"filter":"datum.k=='K19'"}],"layer":[
  {"mark":{"type":"text","fontSize":24,"fontWeight":"bold","align":"right","baseline":"alphabetic","dx":1.3,"dy":11,"color":"black"},"encoding":{"text":{"field":"label"}}},
  {"mark":{"type":"text","fontSize":24,"align":"left","baseline":"alphabetic","dx":5.9,"dy":11,"color":"black"},"encoding":{"text":{"field":"aktuell"}}}]},
 {"hconcat":[
  {"width":30,"height":46,"view":{"fill":"#ff0000"},"data":{"values":[{}]},"mark":{"type":"text","angle":270,"fontSize":14,"color":"white"},"encoding":{"text":{"value":"MIN"}}},
  {"width":90,"height":46,"data":{"name":"info"},"transform":[{"filter":"datum.k=='K19'"}],"layer":[
   {"mark":{"type":"text","fontSize":23,"align":"right","baseline":"alphabetic","dx":-1.5,"dy":10,"color":"black"},"encoding":{"text":{"field":"min"}}},
   {"mark":{"type":"text","fontSize":17,"align":"left","baseline":"alphabetic","dx":2.5,"dy":10,"color":"black"},"encoding":{"text":{"field":"minj"}}}]},
  {"width":30,"height":46,"view":{"fill":"#ffc9c9"},"data":{"values":[{}]},"mark":{"type":"text","angle":270,"fontSize":14,"color":"#262626"},"encoding":{"text":{"value":"MAX"}}},
  {"width":90,"height":46,"data":{"name":"info"},"transform":[{"filter":"datum.k=='K19'"}],"layer":[
   {"mark":{"type":"text","fontSize":23,"align":"right","baseline":"alphabetic","dx":-8.2,"dy":10,"color":"black"},"encoding":{"text":{"field":"max"}}},
   {"mark":{"type":"text","fontSize":17,"align":"left","baseline":"alphabetic","dx":-4.2,"dy":10,"color":"black"},"encoding":{"text":{"field":"maxj"}}}]}]},
 {"width":240,"height":76,"data":{"name":"werte"},"mark":{"type":"bar","clip":true},"encoding":{
  "x":{"field":"jahr","type":"ordinal","axis":null,"scale":{"paddingInner":0.15,"paddingOuter":1}},
  "y":{"field":"K19","type":"quantitative","axis":null,"scale":{"domain":[0,-23.3],"nice":false}},
  "color":{"condition":[{"test":"datum.jahr == 2001","value":"#ff0000"},{"test":"datum.jahr == 2020","value":"#ffcccc"}],"value":"#ff9999"}}}
]},
{"width":2,"height":208,"view":{"fill":"#b0b0b0"},"data":{"values":[]},"mark":"text","encoding":{"text":{"value":""}}},
{"vconcat":[
 {"width":239,"height":44,"view":{"fill":"#7f7f7f"},"data":{"name":"info"},"transform":[{"filter":"datum.k=='K20'"}],"layer":[
  {"mark":{"type":"text","fontSize":22,"fontWeight":"bold","color":"#1a1a1a","opacity":0.8,"dx":1.5,"dy":5},"encoding":{"text":{"field":"titel"}}},
  {"mark":{"type":"text","fontSize":22,"fontWeight":"bold","color":"white","dy":3},"encoding":{"text":{"field":"titel"}}}]},
 {"width":239,"height":42,"data":{"name":"info"},"transform":[{"filter":"datum.k=='K20'"}],"layer":[
  {"mark":{"type":"text","fontSize":24,"fontWeight":"bold","align":"right","baseline":"alphabetic","dx":-12.6,"dy":11,"color":"black"},"encoding":{"text":{"field":"label"}}},
  {"mark":{"type":"text","fontSize":24,"align":"left","baseline":"alphabetic","dx":-8,"dy":11,"color":"black"},"encoding":{"text":{"field":"aktuell"}}}]},
 {"hconcat":[
  {"width":30,"height":46,"view":{"fill":"#ff0000"},"data":{"values":[{}]},"mark":{"type":"text","angle":270,"fontSize":14,"color":"white"},"encoding":{"text":{"value":"MIN"}}},
  {"width":90,"height":46,"data":{"name":"info"},"transform":[{"filter":"datum.k=='K20'"}],"layer":[
   {"mark":{"type":"text","fontSize":23,"align":"right","baseline":"alphabetic","dx":5.2,"dy":10,"color":"black"},"encoding":{"text":{"field":"min"}}},
   {"mark":{"type":"text","fontSize":17,"align":"left","baseline":"alphabetic","dx":9.2,"dy":10,"color":"black"},"encoding":{"text":{"field":"minj"}}}]},
  {"width":30,"height":46,"view":{"fill":"#ffc9c9"},"data":{"values":[{}]},"mark":{"type":"text","angle":270,"fontSize":14,"color":"#262626"},"encoding":{"text":{"value":"MAX"}}},
  {"width":89,"height":46,"data":{"name":"info"},"transform":[{"filter":"datum.k=='K20'"}],"layer":[
   {"mark":{"type":"text","fontSize":23,"align":"right","baseline":"alphabetic","dx":5.2,"dy":10,"color":"black"},"encoding":{"text":{"field":"max"}}},
   {"mark":{"type":"text","fontSize":17,"align":"left","baseline":"alphabetic","dx":9.2,"dy":10,"color":"black"},"encoding":{"text":{"field":"maxj"}}}]}]},
 {"width":239,"height":76,"data":{"name":"werte"},"mark":{"type":"bar","clip":true},"encoding":{
  "x":{"field":"jahr","type":"ordinal","axis":null,"scale":{"paddingInner":0.15,"paddingOuter":1}},
  "y":{"field":"K20","type":"quantitative","axis":null,"scale":{"domain":[0,-325],"nice":false}},
  "color":{"condition":[{"test":"datum.jahr == 2010","value":"#ff0000"},{"test":"datum.jahr == 2020","value":"#ffcccc"}],"value":"#ff9999"}}}
]},
{"width":2,"height":208,"view":{"fill":"#b0b0b0"},"data":{"values":[]},"mark":"text","encoding":{"text":{"value":""}}},
{"vconcat":[
 {"width":239,"height":44,"view":{"fill":"#7f7f7f"},"data":{"name":"info"},"transform":[{"filter":"datum.k=='K21'"}],"layer":[
  {"mark":{"type":"text","fontSize":22,"fontWeight":"bold","color":"#1a1a1a","opacity":0.8,"dx":1.5,"dy":5},"encoding":{"text":{"field":"titel"}}},
  {"mark":{"type":"text","fontSize":22,"fontWeight":"bold","color":"white","dy":3},"encoding":{"text":{"field":"titel"}}}]},
 {"width":239,"height":42,"data":{"name":"info"},"transform":[{"filter":"datum.k=='K21'"}],"layer":[
  {"mark":{"type":"text","fontSize":24,"fontWeight":"bold","align":"right","baseline":"alphabetic","dx":-8.5,"dy":11,"color":"black"},"encoding":{"text":{"field":"label"}}},
  {"mark":{"type":"text","fontSize":24,"align":"left","baseline":"alphabetic","dx":-3.9,"dy":11,"color":"black"},"encoding":{"text":{"field":"aktuell"}}}]},
 {"hconcat":[
  {"width":30,"height":46,"view":{"fill":"#ff0000"},"data":{"values":[{}]},"mark":{"type":"text","angle":270,"fontSize":14,"color":"white"},"encoding":{"text":{"value":"MIN"}}},
  {"width":90,"height":46,"data":{"name":"info"},"transform":[{"filter":"datum.k=='K21'"}],"layer":[
   {"mark":{"type":"text","fontSize":23,"align":"right","baseline":"alphabetic","dx":1.3,"dy":10,"color":"black"},"encoding":{"text":{"field":"min"}}},
   {"mark":{"type":"text","fontSize":17,"align":"left","baseline":"alphabetic","dx":5.3,"dy":10,"color":"black"},"encoding":{"text":{"field":"minj"}}}]},
  {"width":30,"height":46,"view":{"fill":"#ffc9c9"},"data":{"values":[{}]},"mark":{"type":"text","angle":270,"fontSize":14,"color":"#262626"},"encoding":{"text":{"value":"MAX"}}},
  {"width":89,"height":46,"data":{"name":"info"},"transform":[{"filter":"datum.k=='K21'"}],"layer":[
   {"mark":{"type":"text","fontSize":23,"align":"right","baseline":"alphabetic","dx":-12,"dy":10,"color":"black"},"encoding":{"text":{"field":"max"}}},
   {"mark":{"type":"text","fontSize":17,"align":"left","baseline":"alphabetic","dx":-8,"dy":10,"color":"black"},"encoding":{"text":{"field":"maxj"}}}]}]},
 {"width":239,"height":76,"data":{"name":"werte"},"mark":{"type":"bar","clip":true},"encoding":{
  "x":{"field":"jahr","type":"ordinal","axis":null,"scale":{"paddingInner":0.15,"paddingOuter":1}},
  "y":{"field":"K21","type":"quantitative","axis":null,"scale":{"domain":[0,-1.0],"nice":false}},
  "color":{"condition":[{"test":"datum.jahr == 1991","value":"#ff0000"},{"test":"datum.jahr == 2016","value":"#ffcccc"}],"value":"#ff9999"}}}
]}
]}
]
}
